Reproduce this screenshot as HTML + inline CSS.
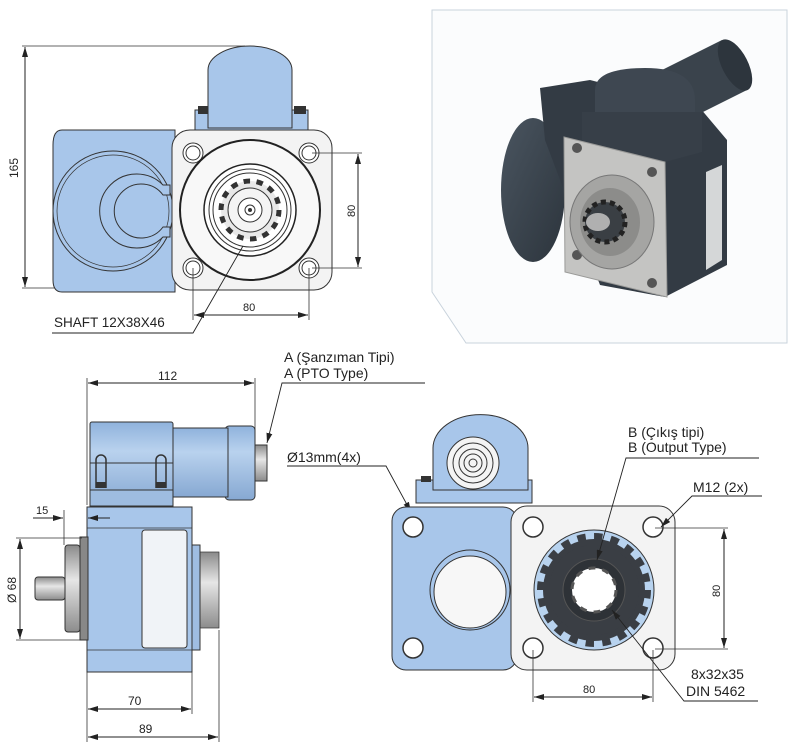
<!DOCTYPE html>
<html><head><meta charset="utf-8">
<style>
html,body{margin:0;padding:0;background:#fff;}
svg{display:block;font-family:"Liberation Sans",sans-serif;}
text{fill:#222;}
</style></head>
<body>
<svg width="793" height="747" viewBox="0 0 793 747" xmlns="http://www.w3.org/2000/svg">
<defs>
<marker id="a" viewBox="0 0 10 6" refX="10" refY="3" markerWidth="10" markerHeight="6" orient="auto-start-reverse" markerUnits="userSpaceOnUse">
<path d="M0,0 L10,3 L0,6 z" fill="#222"/></marker>
<linearGradient id="cyl" x1="0" y1="0" x2="0" y2="1">
<stop offset="0" stop-color="#8fb2dc"/><stop offset="0.35" stop-color="#b9d2ee"/><stop offset="1" stop-color="#86a8d2"/></linearGradient>
<linearGradient id="met" x1="0" y1="0" x2="0" y2="1">
<stop offset="0" stop-color="#8a8a8a"/><stop offset="0.4" stop-color="#e6e6e6"/><stop offset="1" stop-color="#8c8c8c"/></linearGradient>
<linearGradient id="dk" x1="0" y1="0" x2="1" y2="1">
<stop offset="0" stop-color="#4a5560"/><stop offset="1" stop-color="#2c343c"/></linearGradient>
</defs>

<!-- PHOTO BOX -->
<path d="M432,10 H787 V343 H466 L432,292 Z" fill="#fbfcfd" stroke="#c9d3dc" stroke-width="1"/>
<ellipse cx="533" cy="190" rx="32" ry="72" fill="url(#dk)"/>
<path d="M540,88 L590,80 L700,108 L727,140 L727,265 L665,297 L600,285 L545,140 Z" fill="#333b44"/>
<path d="M652,75 L722,40 L747,90 L677,125 Z" fill="#3a434c"/>
<ellipse cx="735" cy="65" rx="13" ry="28" transform="rotate(-27 735 65)" fill="#2d353d"/>
<path d="M595,112 V90 Q595,68 645,68 Q695,68 695,100 V112 Z" fill="#3e4751"/>
<path d="M582,112 H702 V152 L665,162 L582,145 Z" fill="#373f48"/>
<path d="M564,137 L665,162 L667,297 L565,272 Z" fill="#c4c4c2" stroke="#9a9a98"/>
<path d="M706,172 L722,165 L722,260 L706,270 Z" fill="#d5d7d8"/>
<circle cx="577" cy="148" r="5" fill="#555"/><circle cx="652" cy="172" r="5" fill="#555"/>
<circle cx="577" cy="255" r="5" fill="#555"/><circle cx="652" cy="283" r="5" fill="#555"/>
<ellipse cx="612" cy="222" rx="42" ry="47" fill="#a5a5a3" stroke="#777"/>
<ellipse cx="610" cy="222" rx="30" ry="34" fill="#8c8c8a"/>
<circle cx="605" cy="222" r="20" fill="#3a3f44" stroke="#222" stroke-width="5" stroke-dasharray="5 4"/>
<ellipse cx="598" cy="222" rx="12" ry="9" fill="#b0b0b0"/>

<!-- TOP-LEFT VIEW -->
<line x1="22" y1="46" x2="245" y2="46" stroke="#333" stroke-width="0.8"/>
<line x1="22" y1="288" x2="60" y2="288" stroke="#333" stroke-width="0.8"/>
<line x1="25" y1="47" x2="25" y2="287" stroke="#222" marker-start="url(#a)" marker-end="url(#a)"/>
<text x="0" y="0" font-size="12" transform="translate(18,178) rotate(-90)">165</text>
<path d="M62,130 H175 V292 H62 Q53,292 53,280 V145 Q53,130 62,130 Z" fill="#a8c6ea" stroke="#333"/>
<circle cx="113" cy="211" r="60" fill="#a8c6ea" stroke="#333"/>
<circle cx="113" cy="211" r="56" fill="none" stroke="#333" stroke-width="0.7"/>
<path d="M163,185 A37,37 0 1 0 163,237 L170,237 L170,227 L163,227 A27,27 0 1 1 163,195 L170,195 L170,185 Z" fill="#a8c6ea" stroke="#333"/>
<rect x="195" y="110" width="113" height="20" fill="#a8c6ea" stroke="#333"/>
<rect x="198" y="106" width="12" height="8" fill="#333"/><rect x="294" y="106" width="12" height="8" fill="#333"/>
<path d="M208,128 V70 A42,24 0 0 1 292,70 V128 Z" fill="#a8c6ea" stroke="#333"/>
<rect x="172" y="130" width="160" height="160" rx="18" fill="#f3f3f3" stroke="#333"/>
<g fill="#fff" stroke="#333">
<circle cx="193" cy="153" r="10"/><circle cx="309" cy="153" r="10"/>
<circle cx="193" cy="268" r="10"/><circle cx="309" cy="268" r="10"/></g>
<g fill="none" stroke="#333"><circle cx="193" cy="153" r="7"/><circle cx="309" cy="153" r="7"/>
<circle cx="193" cy="268" r="7"/><circle cx="309" cy="268" r="7"/></g>
<circle cx="250" cy="210" r="70" fill="#f8f8f8" stroke="#222" stroke-width="2"/>
<circle cx="250" cy="210" r="46" fill="#fff" stroke="#222" stroke-width="1.5"/>
<circle cx="250" cy="210" r="41" fill="none" stroke="#333"/>
<circle cx="250" cy="210" r="37" fill="none" stroke="#333"/>
<circle cx="250" cy="210" r="29" fill="#e8e8e8" stroke="#333" stroke-width="5" stroke-dasharray="6.5 6.5"/>
<circle cx="250" cy="210" r="22" fill="#f4f4f4" stroke="#333"/>
<circle cx="250" cy="210" r="12" fill="#fff" stroke="#333"/>
<circle cx="250" cy="210" r="5" fill="#fff" stroke="#333"/>
<circle cx="250" cy="210" r="2" fill="#333"/>
<line x1="312" y1="153" x2="362" y2="153" stroke="#333" stroke-width="0.8"/>
<line x1="312" y1="268" x2="362" y2="268" stroke="#333" stroke-width="0.8"/>
<line x1="358" y1="154" x2="358" y2="267" stroke="#222" marker-start="url(#a)" marker-end="url(#a)"/>
<text font-size="11" transform="translate(355,217) rotate(-90)">80</text>
<line x1="193" y1="268" x2="193" y2="320" stroke="#333" stroke-width="0.8"/>
<line x1="309" y1="268" x2="309" y2="320" stroke="#333" stroke-width="0.8"/>
<line x1="194" y1="315" x2="308" y2="315" stroke="#222" marker-start="url(#a)" marker-end="url(#a)"/>
<text x="243" y="311" font-size="11">80</text>
<text x="54" y="327" font-size="13.5">SHAFT 12X38X46</text>
<polyline points="52,333 193,333 243,246" fill="none" stroke="#222" stroke-width="0.9"/>

<!-- BOTTOM-LEFT VIEW -->
<line x1="87" y1="378" x2="87" y2="505" stroke="#333" stroke-width="0.8"/>
<line x1="255" y1="378" x2="255" y2="430" stroke="#333" stroke-width="0.8"/>
<line x1="88" y1="383" x2="254" y2="383" stroke="#222" marker-start="url(#a)" marker-end="url(#a)"/>
<text x="158" y="380" font-size="12">112</text>
<rect x="255" y="445" width="12" height="36" fill="url(#met)" stroke="#333"/>
<rect x="225" y="426" width="30" height="74" rx="4" fill="url(#cyl)" stroke="#333"/>
<rect x="173" y="428" width="55" height="69" fill="url(#cyl)" stroke="#333"/>
<rect x="90" y="422" width="83" height="83" rx="2" fill="url(#cyl)" stroke="#333"/>
<rect x="90" y="490" width="83" height="16" fill="#9ebce0" stroke="#333"/>
<line x1="90" y1="463" x2="173" y2="463" stroke="#333"/>
<path d="M96,488 V460 A5,5 0 0 1 106,460 V488" fill="none" stroke="#333" stroke-width="1.5"/>
<path d="M156,488 V460 A5,5 0 0 1 166,460 V488" fill="none" stroke="#333" stroke-width="1.5"/>
<rect x="96" y="482" width="10" height="6" fill="#333"/><rect x="156" y="482" width="10" height="6" fill="#333"/>
<rect x="200" y="552" width="19" height="76" fill="url(#met)" stroke="#333" stroke-width="0.7"/>
<rect x="187" y="545" width="13" height="105" fill="#9fbde2" stroke="#333"/>
<rect x="87" y="507" width="105" height="165" fill="#a8c6ea" stroke="#333"/>
<line x1="87" y1="528" x2="192" y2="528" stroke="#333" stroke-width="0.8"/>
<line x1="87" y1="650" x2="192" y2="650" stroke="#333" stroke-width="0.8"/>
<rect x="142" y="530" width="45" height="118" rx="3" fill="#f0f3f7" stroke="#333"/>
<rect x="80" y="537" width="8" height="103" fill="#888" stroke="#333"/>
<rect x="65" y="545" width="15" height="87" rx="3" fill="url(#met)" stroke="#333"/>
<rect x="35" y="577" width="30" height="23" rx="3" fill="url(#met)" stroke="#333"/>
<line x1="64" y1="510" x2="64" y2="545" stroke="#333" stroke-width="0.8"/>
<line x1="33" y1="518" x2="63" y2="518" stroke="#222" marker-end="url(#a)"/>
<line x1="110" y1="518" x2="88" y2="518" stroke="#222" marker-end="url(#a)"/>
<text x="36" y="514" font-size="11">15</text>
<line x1="16" y1="538" x2="82" y2="538" stroke="#333" stroke-width="0.8"/>
<line x1="16" y1="640" x2="82" y2="640" stroke="#333" stroke-width="0.8"/>
<line x1="20" y1="539" x2="20" y2="639" stroke="#222" marker-start="url(#a)" marker-end="url(#a)"/>
<text font-size="12" transform="translate(16,603) rotate(-90)">Ø 68</text>
<line x1="87" y1="672" x2="87" y2="742" stroke="#333" stroke-width="0.8"/>
<line x1="192" y1="672" x2="192" y2="714" stroke="#333" stroke-width="0.8"/>
<line x1="219" y1="630" x2="219" y2="742" stroke="#333" stroke-width="0.8"/>
<line x1="88" y1="709" x2="191" y2="709" stroke="#222" marker-start="url(#a)" marker-end="url(#a)"/>
<text x="128" y="705" font-size="12">70</text>
<line x1="88" y1="737" x2="218" y2="737" stroke="#222" marker-start="url(#a)" marker-end="url(#a)"/>
<text x="139" y="733" font-size="12">89</text>
<text x="284" y="362" font-size="14">A (Şanzıman Tipi)</text>
<text x="284" y="378" font-size="14">A (PTO Type)</text>
<polyline points="425,383 282,383 267,443" fill="none" stroke="#222" stroke-width="0.9" marker-end="url(#a)"/>

<!-- BOTTOM-RIGHT VIEW -->
<text x="287" y="462" font-size="14">Ø13mm(4x)</text>
<polyline points="287,466 386,466 411,512" fill="none" stroke="#222" stroke-width="0.9" marker-end="url(#a)"/>
<rect x="416" y="480" width="116" height="23" fill="#a8c6ea" stroke="#333"/>
<rect x="421" y="476" width="10" height="6" fill="#333"/><rect x="518" y="476" width="10" height="6" fill="#333"/>
<path d="M433,490 V448 A47,33 0 0 1 528,448 V490 Z" fill="#a8c6ea" stroke="#333"/>
<circle cx="473" cy="463" r="26" fill="#f4f4f4" stroke="#333"/>
<circle cx="473" cy="463" r="20" fill="none" stroke="#333"/>
<circle cx="473" cy="463" r="14" fill="none" stroke="#333"/>
<circle cx="473" cy="463" r="9" fill="none" stroke="#333"/>
<circle cx="473" cy="463" r="4" fill="none" stroke="#333"/>
<rect x="392" y="507" width="125" height="163" rx="14" fill="#a8c6ea" stroke="#333"/>
<circle cx="413" cy="527" r="10" fill="#fff" stroke="#333" stroke-width="1.5"/>
<circle cx="413" cy="648" r="10" fill="#fff" stroke="#333" stroke-width="1.5"/>
<circle cx="470" cy="590" r="40" fill="#a8c6ea" stroke="#333"/>
<circle cx="470" cy="592" r="36" fill="#f7f7f7" stroke="#333"/>
<rect x="511" y="506" width="164" height="164" rx="16" fill="#f3f3f3" stroke="#333"/>
<circle cx="533" cy="527" r="10" fill="#fff" stroke="#333" stroke-width="1.5"/>
<circle cx="653" cy="527" r="10" fill="#fff" stroke="#333" stroke-width="1.5"/>
<circle cx="533" cy="648" r="10" fill="#fff" stroke="#333" stroke-width="1.5"/>
<circle cx="653" cy="648" r="10" fill="#fff" stroke="#333" stroke-width="1.5"/>
<circle cx="594" cy="590" r="60" fill="#b8d3ef" stroke="#333"/>
<circle cx="594" cy="590" r="51" fill="#3a3e44" stroke="#3a3e44" stroke-width="12" stroke-dasharray="8 8"/>
<circle cx="594" cy="590" r="45" fill="#3a3e44"/>
<circle cx="594" cy="590" r="31" fill="#2e3237" stroke="#555"/>
<circle cx="594" cy="590" r="22" fill="#fff" stroke="#555" stroke-width="3" stroke-dasharray="7 7"/>
<text x="628" y="437" font-size="14">B (Çıkış tipi)</text>
<text x="628" y="452" font-size="14">B (Output Type)</text>
<polyline points="759,458 626,458 597,560" fill="none" stroke="#222" stroke-width="0.9" marker-end="url(#a)"/>
<text x="693" y="492" font-size="14">M12 (2x)</text>
<polyline points="762,496 692,496 661,527" fill="none" stroke="#222" stroke-width="0.9" marker-end="url(#a)"/>
<line x1="655" y1="528" x2="728" y2="528" stroke="#333" stroke-width="0.8"/>
<line x1="655" y1="649" x2="728" y2="649" stroke="#333" stroke-width="0.8"/>
<line x1="724" y1="529" x2="724" y2="648" stroke="#222" marker-start="url(#a)" marker-end="url(#a)"/>
<text font-size="11" transform="translate(720,597) rotate(-90)">80</text>
<line x1="533" y1="650" x2="533" y2="702" stroke="#333" stroke-width="0.8"/>
<line x1="653" y1="650" x2="653" y2="702" stroke="#333" stroke-width="0.8"/>
<line x1="534" y1="697" x2="652" y2="697" stroke="#222" marker-start="url(#a)" marker-end="url(#a)"/>
<text x="583" y="693" font-size="11">80</text>
<text x="691" y="679" font-size="14">8x32x35</text>
<text x="686" y="696" font-size="14">DIN 5462</text>
<polyline points="758,701 684,701 612,610" fill="none" stroke="#222" stroke-width="0.9" marker-end="url(#a)"/>
</svg>
</body></html>
